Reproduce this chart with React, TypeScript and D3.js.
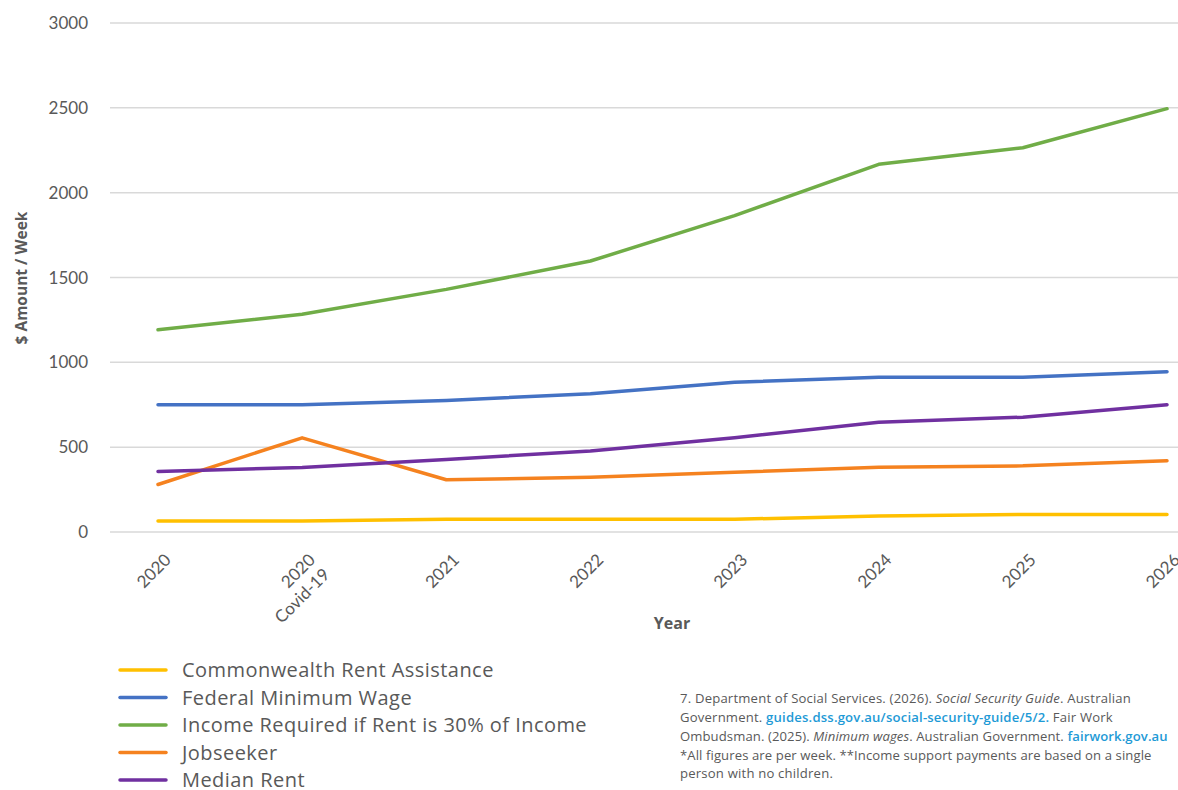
import React from "react";
import * as d3 from "d3";

const categories = ["2020", "2020\nCovid-19", "2021", "2022", "2023", "2024", "2025", "2026"];
const yTicks = [0, 500, 1000, 1500, 2000, 2500, 3000];

const seriesNames = [
  "Commonwealth Rent Assistance",
  "Federal Minimum Wage",
  "Income Required if Rent is 30% of Income",
  "Jobseeker",
  "Median Rent",
];
const rentAssistance = [65, 65, 75, 75, 75, 95, 103, 103];
const minimumWage = [750, 750, 775, 815, 883, 912, 912, 945];
const incomeRequired = [1192, 1283, 1430, 1597, 1865, 2167, 2265, 2495];
const jobseeker = [280, 555, 308, 322, 352, 381, 390, 420];
const medianRent = [357, 380, 427, 478, 556, 647, 677, 750];
const seriesValues = [rentAssistance, minimumWage, incomeRequired, jobseeker, medianRent];
const seriesColors = ["#FFC000", "#4472C4", "#70AD47", "#F5821F", "#7030A0"];

const FONT = "Lato, 'Open Sans', sans-serif";
const WIDE = "'Open Sans', Lato, sans-serif";
const TEXT = "#595959";
const LINK = "#1E9AD6";

export default function App() {
  const x = d3.scalePoint<string>().domain(categories).range([158, 1167]);
  const y = d3.scaleLinear().domain([0, 3000]).range([532, 23]);
  const line = d3
    .line<number>()
    .x((_, i) => x(categories[i]) as number)
    .y((d) => y(d));

  return (
    <svg
      width={1178}
      height={790}
      style={{ position: "absolute", left: 0, top: 0, background: "#fff" }}
      fontFamily={FONT}
    >
      {/* gridlines */}
      {yTicks.map((t) => (
        <g key={t}>
          <line x1={110} x2={1178} y1={y(t)} y2={y(t)} stroke="#D9D9D9" strokeWidth={1.5} />
          <text x={88} y={y(t) + 6} textAnchor="end" fontSize={17} fill={TEXT}>
            {t}
          </text>
        </g>
      ))}

      {/* x tick labels */}
      {categories.map((c) => {
        const px = x(c) as number;
        const lines = c.split("\n");
        return (
          <text
            key={c}
            transform={`translate(${px + 14},561) rotate(-45)`}
            textAnchor="end"
            fontSize={17}
            fill={TEXT}
          >
            {lines.map((l, i) => (
              <tspan key={i} x={0} dy={i === 0 ? 0 : 20.5}>
                {l}
              </tspan>
            ))}
          </text>
        );
      })}

      {/* axis titles */}
      <text x={672} y={629} textAnchor="middle" fontSize={16} fontWeight="bold" fill={TEXT} fontFamily={WIDE}>
        Year
      </text>
      <text
        transform="translate(27,278) rotate(-90)"
        textAnchor="middle"
        fontSize={15.5}
        fontWeight="bold"
        fill={TEXT}
        fontFamily={WIDE}
      >
        $ Amount / Week
      </text>

      {/* series lines */}
      {seriesValues.map((vals, i) => (
        <path
          key={seriesNames[i]}
          d={line(vals) as string}
          fill="none"
          stroke={seriesColors[i]}
          strokeWidth={3.5}
          strokeLinejoin="round"
          strokeLinecap="round"
        />
      ))}

      {/* legend */}
      {seriesNames.map((name, i) => {
        const ly = 670 + i * 27.5;
        return (
          <g key={name}>
            <line x1={120} x2={166} y1={ly} y2={ly} stroke={seriesColors[i]} strokeWidth={3.5} strokeLinecap="round" />
            <text x={182} y={ly + 7} fontSize={20} letterSpacing={0.45} fill={TEXT} fontFamily={WIDE}>
              {name}
            </text>
          </g>
        );
      })}

      {/* footnote */}
      <g fontSize={13.1} letterSpacing={0.2} fill={TEXT} fontFamily={WIDE}>
        <text x={680} y={703}>
          7. Department of Social Services. (2026). <tspan fontStyle="italic">Social Security Guide</tspan>. Australian
        </text>
        <text x={680} y={722}>
          Government. <tspan fill={LINK} fontWeight={600}>guides.dss.gov.au/social-security-guide/5/2.</tspan> Fair Work
        </text>
        <text x={680} y={741} letterSpacing={0.1}>
          Ombudsman. (2025). <tspan fontStyle="italic">Minimum wages</tspan>. Australian Government.{" "}
          <tspan fill={LINK} fontWeight={600}>fairwork.gov.au</tspan>
        </text>
        <text x={680} y={760} letterSpacing={0.1}>
          *All figures are per week. **Income support payments are based on a single
        </text>
        <text x={680} y={778}>
          person with no children.
        </text>
      </g>
    </svg>
  );
}
